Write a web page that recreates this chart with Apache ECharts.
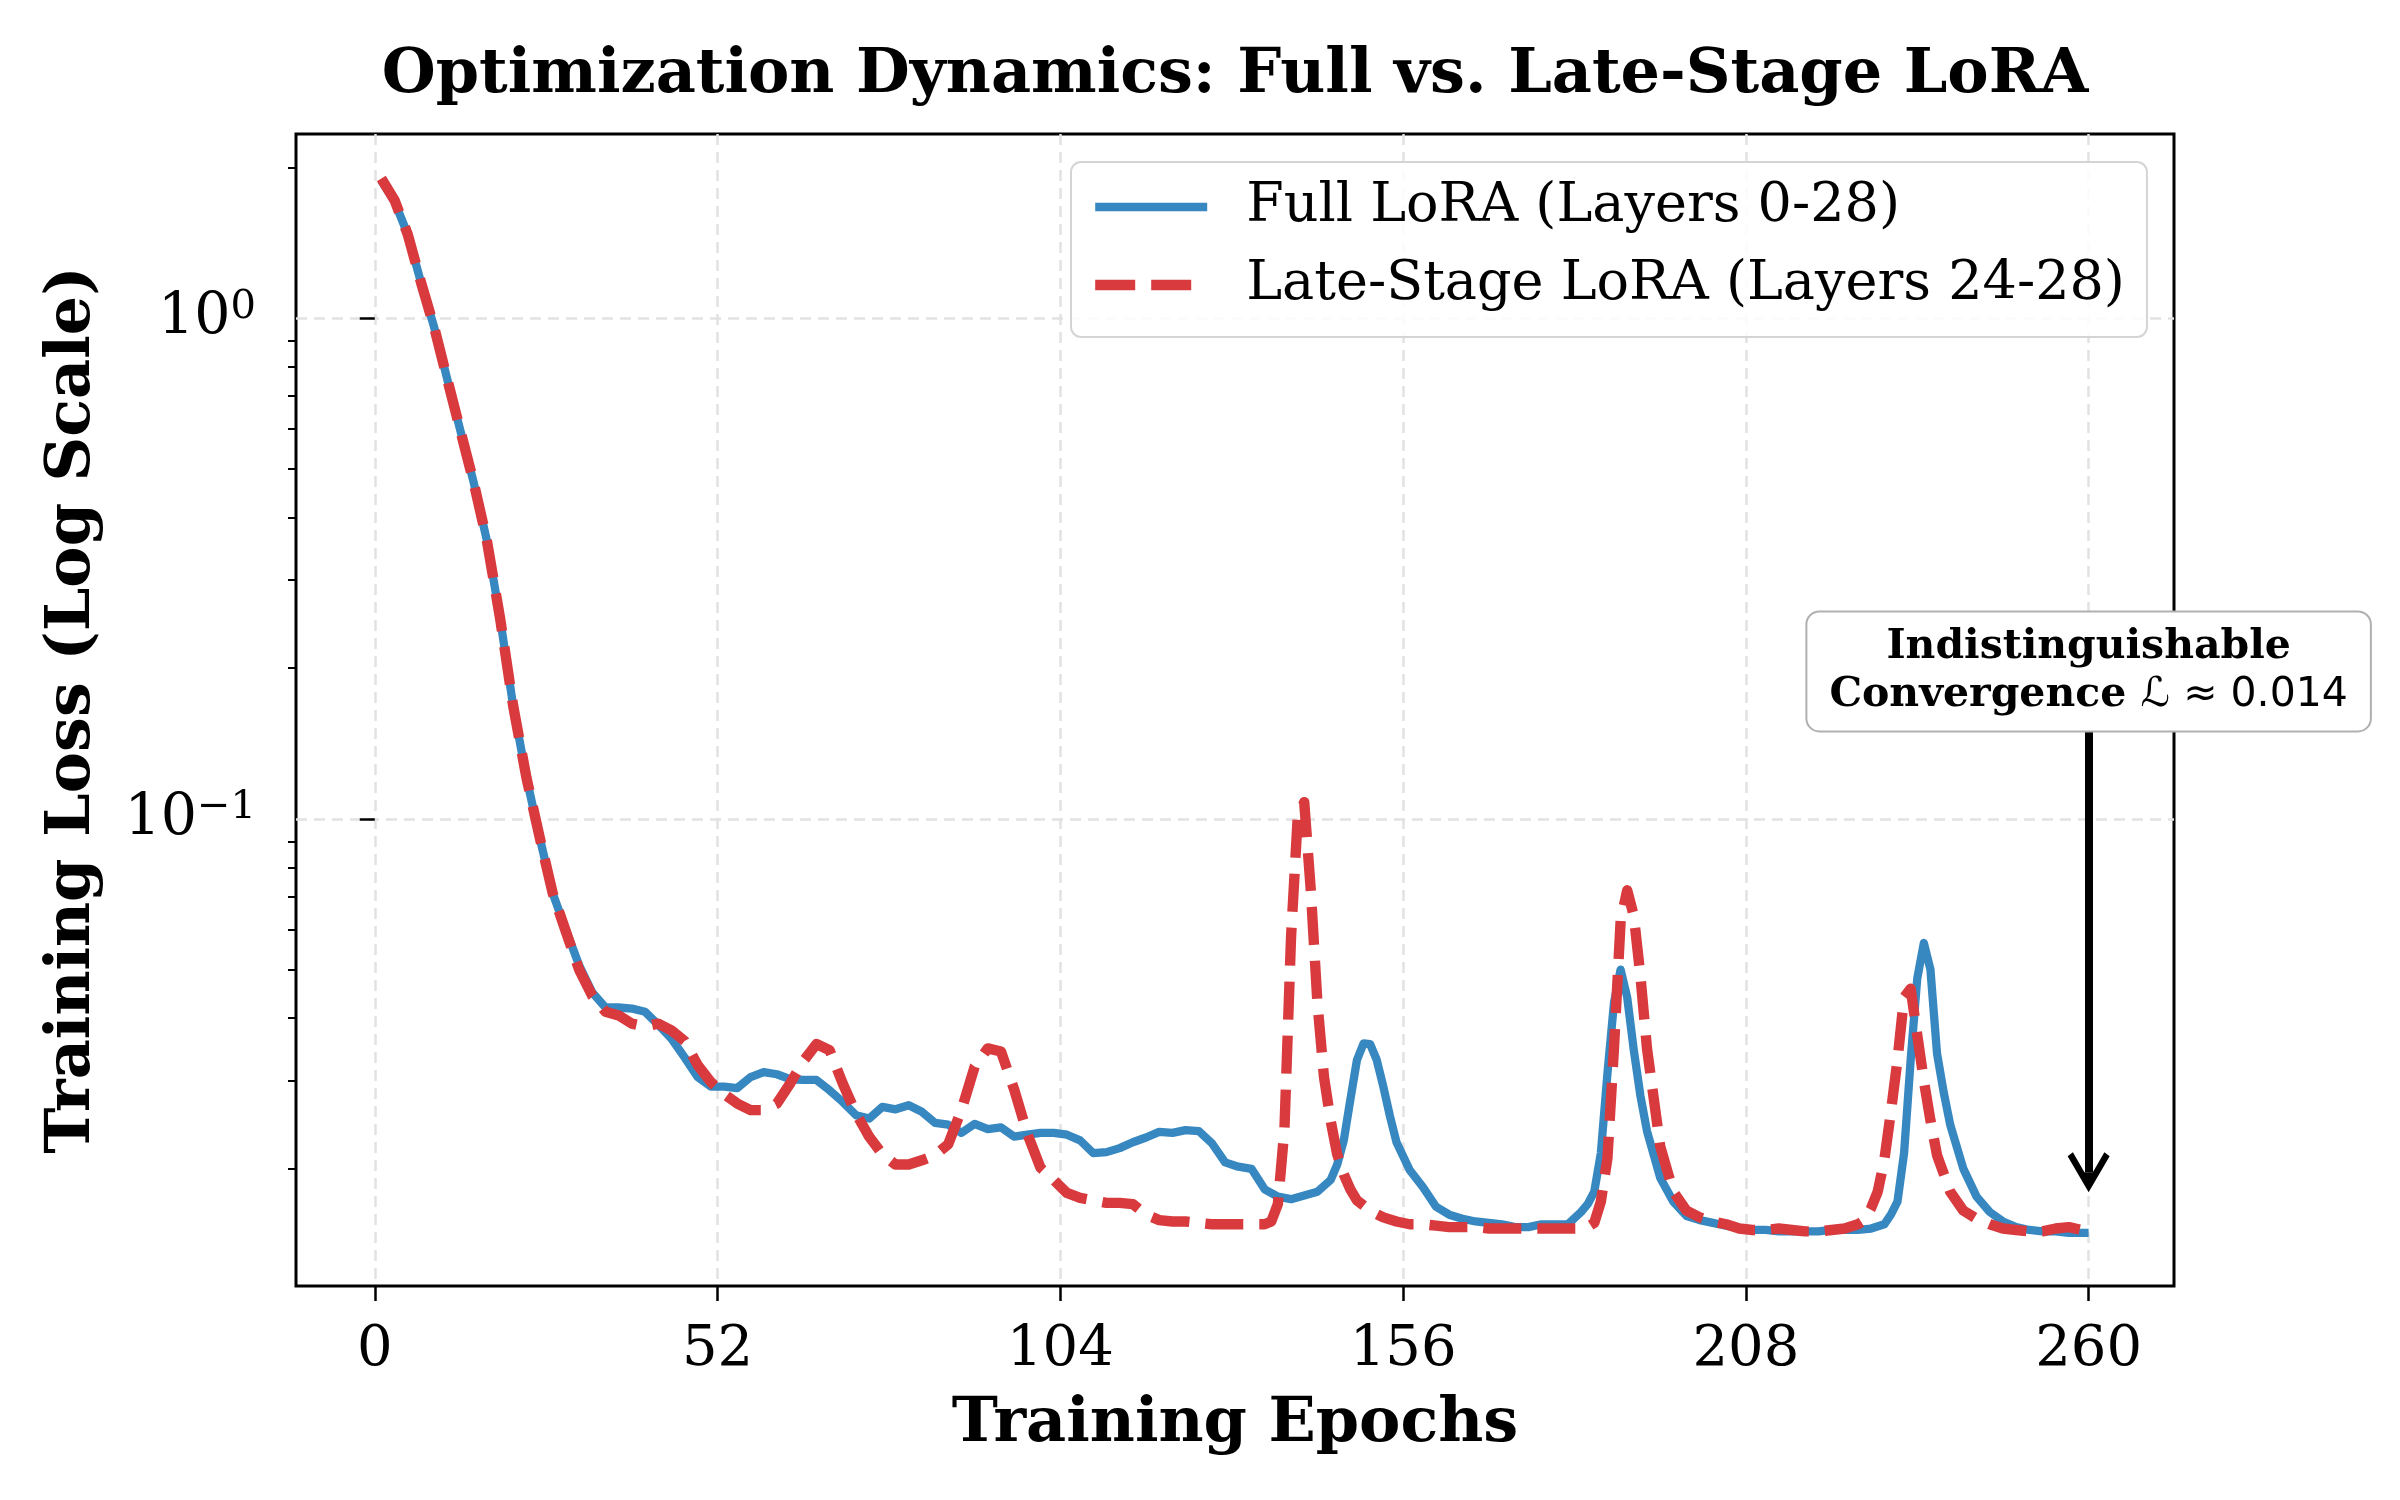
<!DOCTYPE html>
<html>
<head>
<meta charset="utf-8">
<title>Optimization Dynamics</title>
<script src="https://cdn.jsdelivr.net/npm/echarts@6/dist/echarts.min.js"></script>
<style>
  html, body { margin: 0; padding: 0; background: #fff; }
  #chart { width: 2400px; height: 1500px; }
</style>
</head>
<body>
<div id="chart"></div>
<script>
// epochs / loss
var fullEpochs = [1, 3, 5, 7, 9, 11, 13, 15, 17, 19, 21, 23, 25, 27, 29, 31, 33, 35,
  37, 39, 41, 43, 45, 47, 49, 51, 53, 55, 57, 59, 61, 63, 65, 67, 69, 71, 73, 75, 77, 79,
  81, 83, 85, 87, 89, 91, 93, 95, 97, 99, 101, 103, 105, 107, 109, 111, 113, 115, 117, 119,
  121, 123, 125, 127, 129, 131, 133, 135, 137, 139, 141, 143, 145, 146, 147, 148, 149, 150,
  151, 152, 153, 154, 155, 157, 159, 161, 163, 165, 167, 169, 171, 173, 175, 177, 179, 181,
  183, 184, 185, 186, 187, 188, 189, 190, 191, 192, 193, 195, 197, 199, 201, 203, 205, 207,
  209, 211, 213, 215, 217, 219, 221, 223, 225, 227, 229, 230, 231, 232, 233, 234, 235, 236,
  237, 238, 239, 241, 243, 245, 247, 249, 251, 253, 255, 257, 259, 260];
var fullLoss = [1.88, 1.71, 1.47, 1.18, 0.96, 0.755, 0.595, 0.47, 0.36, 0.252, 0.168, 0.121, 0.092, 0.071, 0.060, 0.051, 0.045, 0.042,
  0.0420, 0.0418, 0.0412, 0.0388, 0.0364, 0.0334, 0.0305, 0.0292, 0.0292, 0.0290, 0.0305, 0.0312, 0.0309, 0.0302, 0.0301, 0.0301, 0.0287, 0.0272, 0.0256, 0.0252, 0.0266, 0.0263,
  0.0268, 0.0260, 0.0247, 0.0245, 0.0236, 0.0246, 0.0240, 0.0242, 0.0232, 0.0234, 0.0236, 0.0236, 0.0234, 0.0228, 0.0215, 0.0216, 0.0220, 0.0226, 0.0231, 0.0237,
  0.0236, 0.0239, 0.0238, 0.0225, 0.0206, 0.0202, 0.0200, 0.0182, 0.0176, 0.0174, 0.0177, 0.0180, 0.0190, 0.0204, 0.0228, 0.0275, 0.0330, 0.0356,
  0.0355, 0.0330, 0.0292, 0.0255, 0.0226, 0.0199, 0.0184, 0.0168, 0.0162, 0.0159, 0.0157, 0.0156, 0.0155, 0.0153, 0.0153, 0.0155, 0.0155, 0.0155,
  0.0164, 0.0170, 0.0180, 0.0215, 0.0310, 0.0430, 0.0500, 0.0440, 0.0345, 0.0280, 0.0238, 0.0192, 0.0172, 0.0161, 0.0158, 0.0156, 0.0154, 0.0152,
  0.0151, 0.0151, 0.0150, 0.0150, 0.0150, 0.0150, 0.0151, 0.0151, 0.0151, 0.0152, 0.0155, 0.0162, 0.0172, 0.0215, 0.0330, 0.0480, 0.0565, 0.0500,
  0.0340, 0.0285, 0.0245, 0.0200, 0.0176, 0.0164, 0.0157, 0.0153, 0.0151, 0.0150, 0.0150, 0.0149, 0.0149, 0.0149];

var lateEpochs = [1, 3, 5, 7, 9, 11, 13, 15, 17, 19, 21, 23, 25, 27, 29, 31, 33, 35,
  37, 39, 41, 43, 45, 47, 49, 51, 53, 55, 57, 59, 61, 63, 65, 67, 69, 71, 73, 75, 77, 79,
  81, 83, 85, 87, 89, 91, 93, 95, 97, 99, 101, 103, 105, 107, 109, 111, 113, 115, 117, 119,
  121, 123, 125, 127, 129, 131, 133, 135, 136, 137, 138, 139, 140, 141, 142, 143, 144, 145,
  146, 147, 148, 149, 151, 153, 155, 157, 159, 161, 163, 165, 167, 169, 171, 173, 175, 177,
  179, 181, 183, 184, 185, 186, 187, 188, 189, 190, 191, 192, 193, 195, 197, 199, 201, 203,
  205, 207, 209, 211, 213, 215, 217, 219, 221, 223, 225, 226, 227, 228, 229, 230, 231, 232,
  233, 234, 235, 236, 237, 239, 241, 243, 245, 247, 249, 251, 253, 255, 257, 259, 260];
var lateLoss = [1.90, 1.72, 1.47, 1.18, 0.96, 0.755, 0.595, 0.47, 0.36, 0.252, 0.168, 0.121, 0.092, 0.071, 0.0595, 0.050, 0.0443, 0.0412,
  0.0405, 0.0390, 0.0385, 0.0390, 0.0378, 0.0360, 0.0322, 0.0298, 0.0282, 0.0270, 0.0262, 0.0262, 0.0270, 0.0296, 0.0328, 0.0355, 0.0345, 0.0296, 0.0258, 0.0232, 0.0214, 0.0204,
  0.0204, 0.0208, 0.0213, 0.0224, 0.0262, 0.0320, 0.0348, 0.0343, 0.0288, 0.0235, 0.0201, 0.0190, 0.0179, 0.0175, 0.0173, 0.0171, 0.0171, 0.0170, 0.0162, 0.0158,
  0.0157, 0.0157, 0.0156, 0.0155, 0.0155, 0.0155, 0.0155, 0.0155, 0.0157, 0.0170, 0.0240, 0.0580, 0.1000, 0.1080, 0.0720, 0.0430, 0.0305, 0.0250,
  0.0214, 0.0195, 0.0182, 0.0173, 0.0165, 0.0160, 0.0157, 0.0155, 0.0155, 0.0154, 0.0153, 0.0153, 0.0153, 0.0152, 0.0152, 0.0152, 0.0152, 0.0152,
  0.0152, 0.0152, 0.0152, 0.0153, 0.0156, 0.0172, 0.0210, 0.0350, 0.0625, 0.0720, 0.0640, 0.0486, 0.0348, 0.0222, 0.0180, 0.0165, 0.0160, 0.0157,
  0.0155, 0.0152, 0.0151, 0.0151, 0.0152, 0.0151, 0.0150, 0.0150, 0.0151, 0.0152, 0.0155, 0.0158, 0.0167, 0.0180, 0.0208, 0.0260, 0.0330, 0.0440,
  0.0458, 0.0370, 0.0300, 0.0250, 0.0213, 0.0180, 0.0165, 0.0159, 0.0155, 0.0152, 0.0151, 0.0150, 0.0150, 0.0152, 0.0153, 0.0151, 0.0150];

var seriesNames = ['Full LoRA (Layers 0-28)', 'Late-Stage LoRA (Layers 24-28)'];
var xTicks = [0, 52, 104, 156, 208, 260];
var yMajorTicks = [0.1, 1];
var yMinorTicks = [0.02, 0.03, 0.04, 0.05, 0.06, 0.07, 0.08, 0.09,
  0.2, 0.3, 0.4, 0.5, 0.6, 0.7, 0.8, 0.9, 2];
// annotation: text box centre and arrow from/to (data coords)
var notePoint = [260, 0.197];
var arrowFrom = [260, 0.152];
var arrowTo = [260, 0.0197];

var SERIF = 'DejaVu Serif';
var BLUE = '#3787c0';
var RED = '#d83a3d';

function pairs(xs, ys) {
  return ys.map(function (v, i) { return [xs[i], v]; });
}

var chart = echarts.init(document.getElementById('chart'), null, { renderer: 'canvas' });

var option = {
  animation: false,
  backgroundColor: '#fff',
  graphic: [{
    type: 'text',
    x: 1235,
    y: 76,
    style: {
      text: 'Optimization Dynamics: Full vs. Late-Stage LoRA',
      fill: '#000',
      font: 'bold 62px "DejaVu Serif"',
      align: 'center',
      verticalAlign: 'middle'
    }
  }],
  grid: {
    left: 296, right: 226, top: 134, bottom: 214,
    show: true,
    borderColor: '#000',
    borderWidth: 3,
    backgroundColor: 'transparent'
  },
  legend: {
    orient: 'vertical',
    left: 1071,
    top: 162,
    padding: [14, 22, 21, 19],
    itemWidth: 112,
    itemHeight: 20,
    itemGap: 16,
    backgroundColor: 'rgba(255,255,255,0.85)',
    borderColor: '#d4d4d4',
    borderWidth: 2,
    borderRadius: 10,
    itemStyle: { opacity: 0 },
    textStyle: {
      fontFamily: SERIF,
      fontSize: 54,
      color: '#000',
      lineHeight: 62,
      padding: [0, 0, 0, 34]
    },
    data: [
      { name: seriesNames[0], lineStyle: { color: BLUE, width: 8.3, type: 'solid' } },
      { name: seriesNames[1], lineStyle: { color: RED, width: 10.4, type: [40, 16], cap: 'butt' } }
    ]
  },
  xAxis: {
    type: 'value',
    min: -11.95,
    max: 272.95,
    name: 'Training Epochs',
    nameLocation: 'middle',
    nameGap: 139,
    nameTextStyle: {
      fontFamily: SERIF, fontWeight: 'bold', fontSize: 62, color: '#000', verticalAlign: 'middle'
    },
    axisLine: { show: false },
    axisTick: {
      show: true, length: 15, customValues: xTicks,
      lineStyle: { color: '#000', width: 2.5 }
    },
    axisLabel: {
      customValues: xTicks,
      margin: 36,
      fontFamily: SERIF, fontSize: 56, color: '#000'
    },
    splitLine: {
      show: true,
      lineStyle: { color: '#e2e2e2', width: 2.5, type: [11, 7] }
    }
  },
  yAxis: [{
    type: 'log',
    logBase: 10,
    min: 0.01167,
    max: 2.332,
    position: 'left',
    name: 'Training Loss (Log Scale)',
    nameLocation: 'middle',
    nameGap: 223,
    nameRotate: 90,
    nameTextStyle: {
      fontFamily: SERIF, fontWeight: 'bold', fontSize: 62, color: '#000', verticalAlign: 'middle'
    },
    axisLine: { show: false },
    axisTick: {
      show: true, length: 15, customValues: yMajorTicks,
      lineStyle: { color: '#000', width: 2.5 }
    },
    axisLabel: {
      customValues: yMajorTicks,
      margin: 40,
      formatter: function (v) {
        var e = Math.round(Math.log(v) / Math.LN10);
        return '{b|10}{e|' + (e < 0 ? '\u2212' + (-e) : e) + '}';
      },
      rich: {
        b: { fontFamily: SERIF, fontSize: 57, color: '#000', lineHeight: 62 },
        e: { fontFamily: SERIF, fontSize: 40, color: '#000', verticalAlign: 'top', lineHeight: 44 }
      }
    },
    splitLine: {
      show: true,
      lineStyle: { color: '#e2e2e2', width: 2.5, type: [11, 7] }
    }
  }, {
    type: 'log',
    logBase: 10,
    min: 0.01167,
    max: 2.332,
    position: 'left',
    axisLine: { show: false },
    axisTick: {
      show: true, length: 8, customValues: yMinorTicks,
      lineStyle: { color: '#000', width: 2 }
    },
    axisLabel: { show: false },
    splitLine: { show: false }
  }],
  series: [{
    name: seriesNames[0],
    type: 'line',
    yAxisIndex: 0,
    data: pairs(fullEpochs, fullLoss),
    showSymbol: false,
    symbol: 'none',
    color: BLUE,
    lineStyle: { color: BLUE, width: 8.3, cap: 'butt', join: 'round' },
    z: 2
  }, {
    name: seriesNames[1],
    type: 'line',
    yAxisIndex: 0,
    data: pairs(lateEpochs, lateLoss),
    showSymbol: false,
    symbol: 'none',
    color: RED,
    lineStyle: { color: RED, width: 10.4, type: [38, 16], cap: 'butt', join: 'round' },
    z: 3,
    markLine: {
      silent: true,
      animation: false,
      symbol: ['none', 'path://M20,0 L40,34 L35,38 L24,19 L16,19 L5,38 L0,34 Z'],
      symbolSize: [42, 40],
      label: { show: false },
      lineStyle: { color: '#000', width: 8, type: 'solid' },
      emphasis: { disabled: true },
      data: [[{ coord: arrowFrom }, { coord: arrowTo }]]
    },
    markPoint: {
      silent: true,
      animation: false,
      symbol: 'circle',
      symbolSize: 1,
      itemStyle: { color: 'rgba(0,0,0,0)' },
      label: {
        show: true,
        position: 'inside',
        formatter: '{t|Indistinguishable}\n{t|Convergence }{l|\u2112}{m| \u2248 0.014}',
        backgroundColor: '#fff',
        borderColor: '#b0b0b0',
        borderWidth: 2,
        borderRadius: 12,
        padding: [11, 22, 11, 22],
        align: 'center',
        verticalAlign: 'middle',
        rich: {
          t: { fontFamily: SERIF, fontWeight: 'bold', fontSize: 41, color: '#000', lineHeight: 48, align: 'center' },
          l: { fontFamily: 'DejaVu Sans', fontStyle: 'italic', fontSize: 41, color: '#000', lineHeight: 48 },
          m: { fontFamily: 'DejaVu Sans', fontSize: 41, color: '#000', lineHeight: 48 }
        }
      },
      data: [{ coord: notePoint }]
    }
  }]
};

chart.setOption(option);
</script>
</body>
</html>
